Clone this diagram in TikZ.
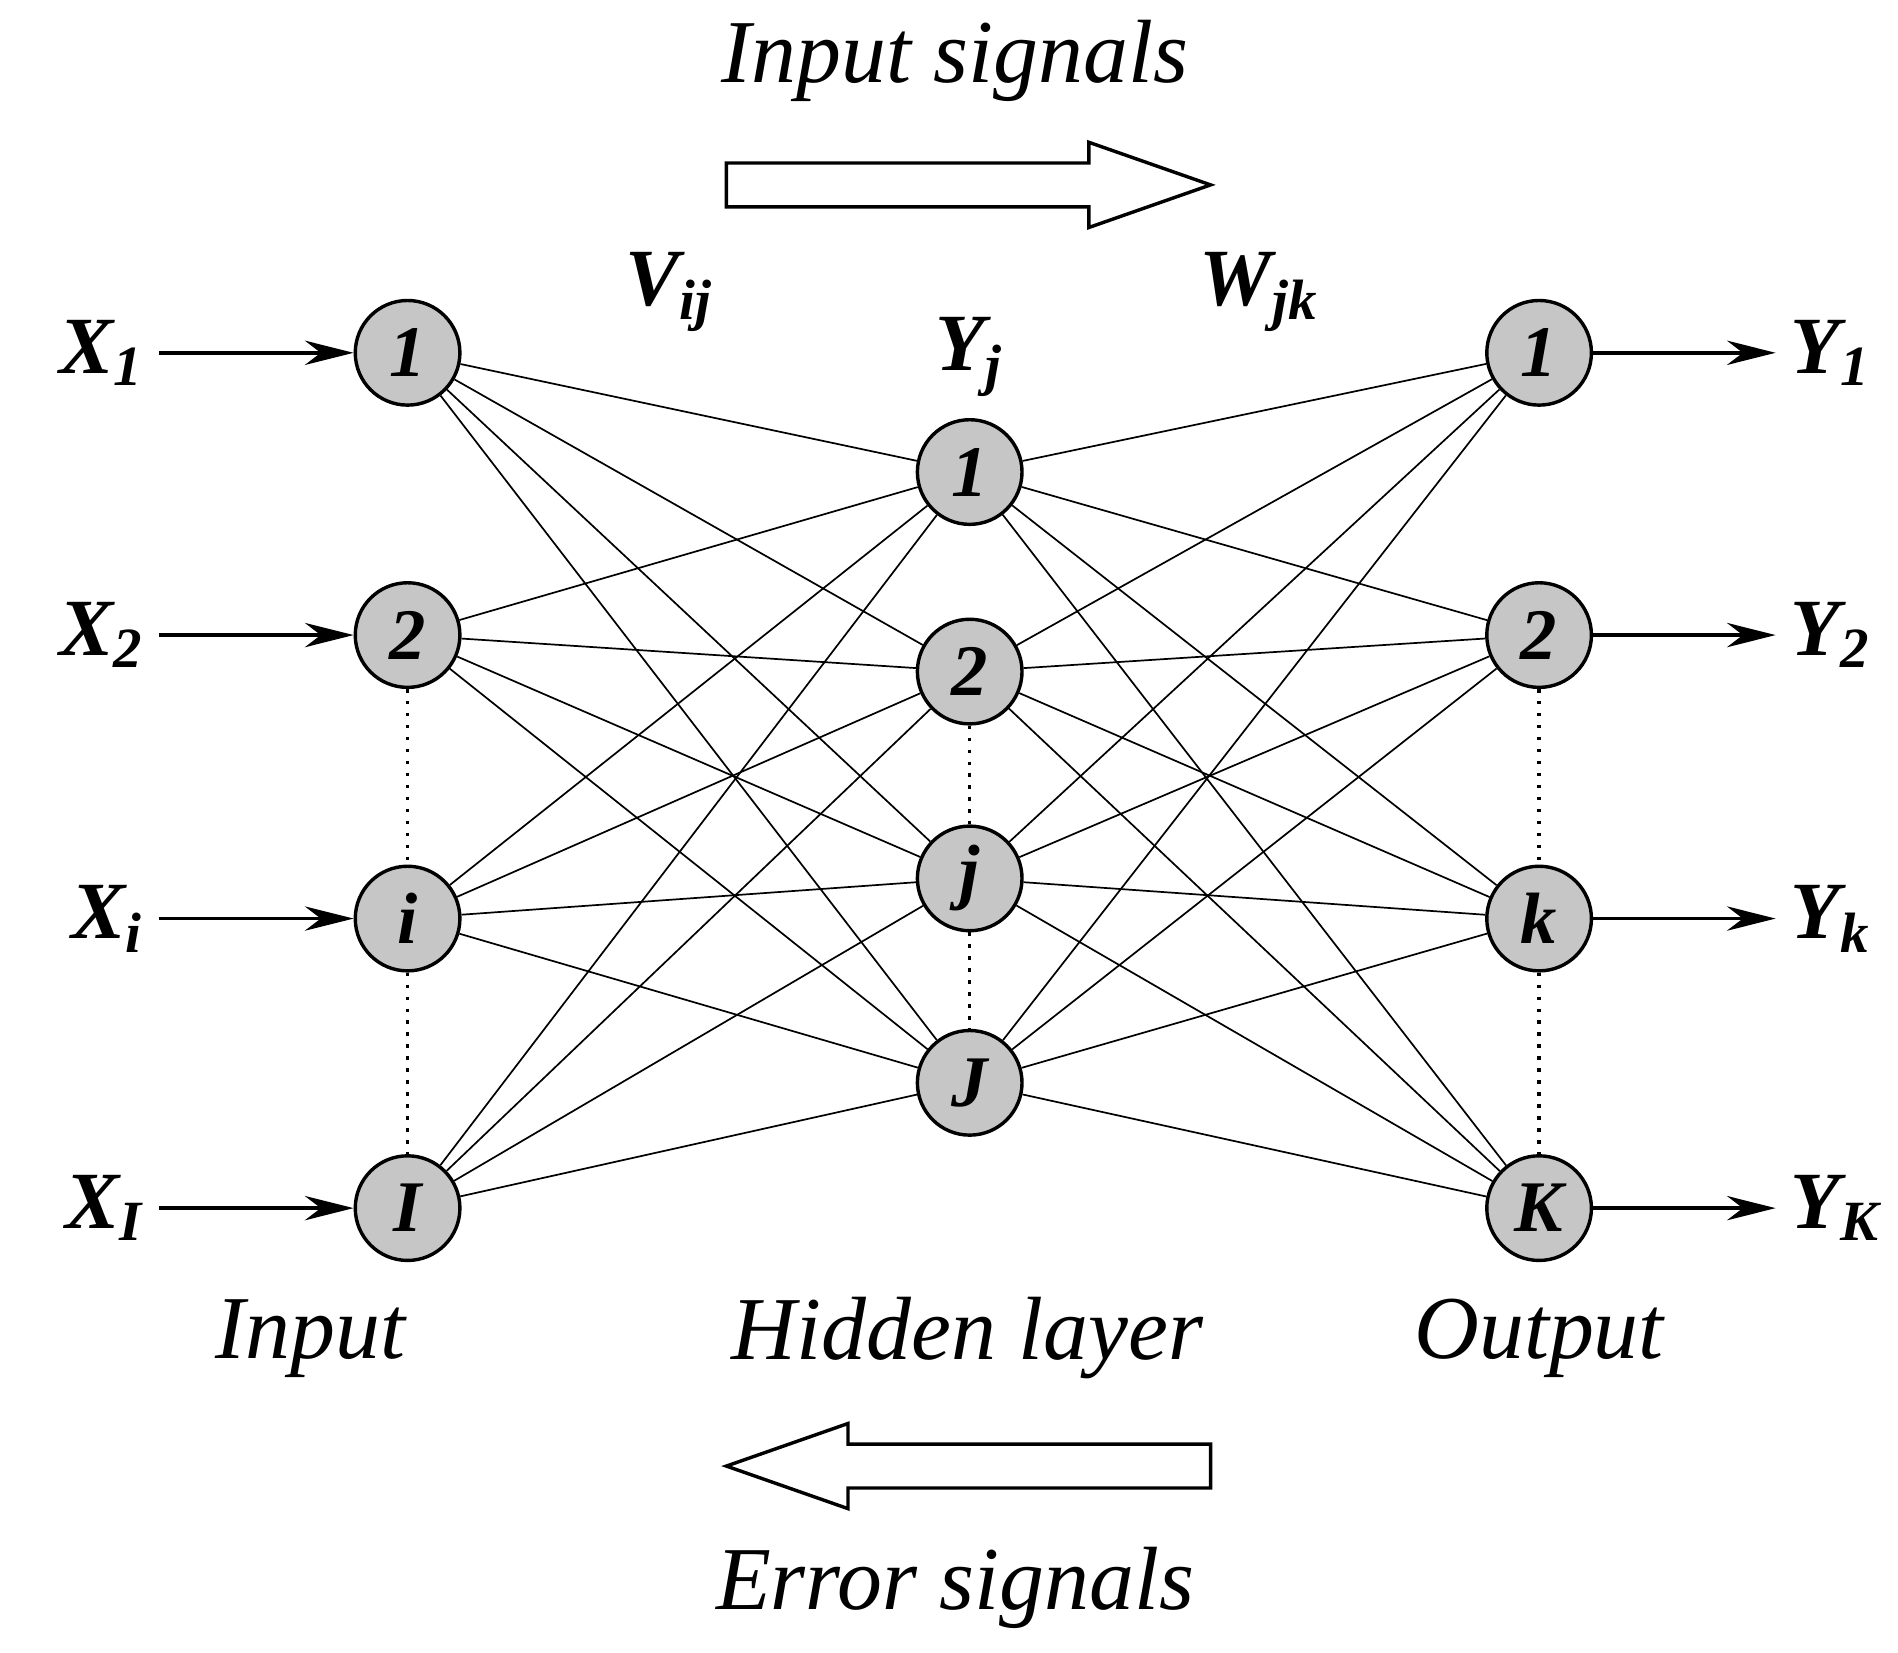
\documentclass[tikz,border=0pt]{standalone}
\usepackage{fontspec}
\setmainfont{Liberation Serif}
\usetikzlibrary{positioning,arrows.meta}
\tikzset{%
  neuron/.style = {circle, draw, thick, fill=gray!45, minimum size=8.6mm,%
                   inner sep=0pt, font=\fontsize{17}{17}\selectfont\bfseries\itshape},%
  sig/.style    = {font=\fontsize{19}{19}\selectfont\bfseries\itshape},%
  title/.style  = {font=\fontsize{21}{21}\selectfont\itshape},%
  feed/.style   = {-{Stealth[length=4mm,width=2mm]}, thick},%
  wire/.style   = {thin}%
}
\begin{document}
\begin{tikzpicture}[x=1cm,y=1cm]
  \useasboundingbox (0,0) rectangle (15.6,13.58);
  % input layer
  \foreach \n/\t/\y in {a/1/10.68, b/2/8.36, c/i/6.03, d/I/3.65}
    \node [neuron] (in\n) at (3.35,\y) {\t};
  % hidden layer
  \foreach \n/\t/\y in {a/1/9.70, b/2/8.06, c/j/6.36, d/J/4.68}
    \node [neuron] (hid\n) at (7.97,\y) {\t};
  % output layer
  \foreach \n/\t/\y in {a/1/10.68, b/2/8.36, c/k/6.03, d/K/3.65}
    \node [neuron] (out\n) at (12.65,\y) {\t};
  % connections
  \foreach \i in {a,b,c,d}
    \foreach \j in {a,b,c,d} {
      \draw [wire] (in\i) -- (hid\j);
      \draw [wire] (hid\i) -- (out\j);
    }
  % dots
  \foreach \l in {in,out} {
    \draw [thick, dotted] (\l b.south) -- (\l c.north);
    \draw [thick, dotted] (\l c.south) -- (\l d.north);
  }
  \draw [thick, dotted] (hidb.south) -- (hidc.north);
  \draw [thick, dotted] (hidc.south) -- (hidd.north);
  % inputs and outputs
  \foreach \n/\t in {a/1, b/2, c/i, d/I} {
    \node [sig, left=1.6cm of in\n] (x\n) {X\textsubscript{\t}};
    \draw [feed] (x\n) -- (in\n);
  }
  \foreach \n/\t in {a/1, b/2, c/k, d/K} {
    \node [sig, right=1.5cm of out\n] (y\n) {Y\textsubscript{\t}};
    \draw [feed] (out\n) -- (y\n);
  }
  % weights
  \node [sig] (vij) at (5.50,11.18) {V\textsubscript{ij}};
  \node [sig] (wjk) at (10.35,11.18) {W\textsubscript{jk}};
  \node [sig, above=0.05cm of hida] (yj) {Y\textsubscript{j}};
  % captions
  \node [title] (lin) at (2.55,2.58) {Input};
  \node [title] (lhid) at (7.95,2.58) {Hidden layer};
  \node [title] (lout) at (12.65,2.58) {Output};
  \node [title] (lis) at (7.85,13.08) {Input signals};
  \node [title] (les) at (7.85,0.53) {Error signals};
  % signal arrows
  \draw [thick] (5.97,12.24) -- (8.95,12.24) -- (8.95,12.41) -- (9.95,12.06)
    -- (8.95,11.71) -- (8.95,11.88) -- (5.97,11.88) -- cycle;
  \draw [thick] (9.95,1.71) -- (6.97,1.71) -- (6.97,1.88) -- (5.97,1.53)
    -- (6.97,1.18) -- (6.97,1.35) -- (9.95,1.35) -- cycle;
\end{tikzpicture}
\end{document}
